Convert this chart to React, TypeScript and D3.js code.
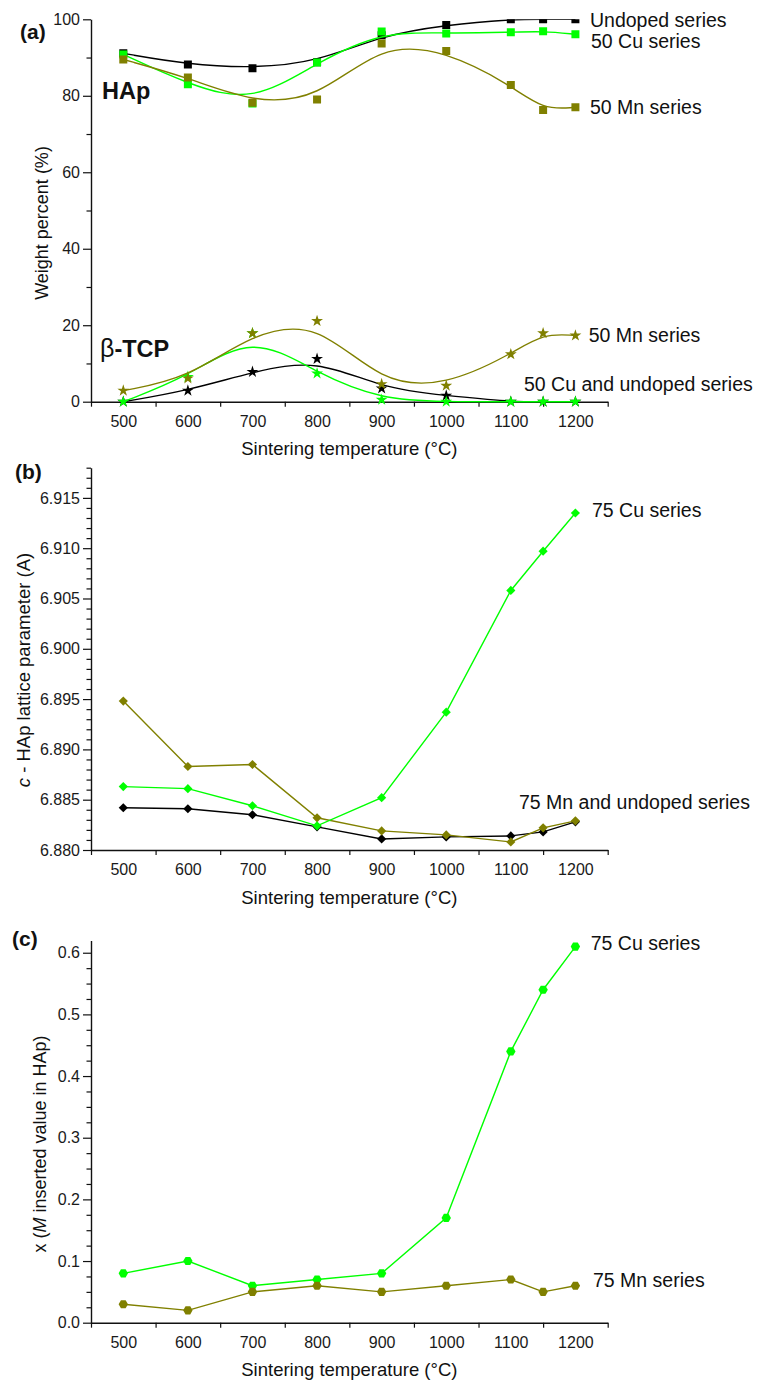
import React, { useEffect, useRef } from 'react';
import * as d3 from 'd3';

// sintering temperatures (°C)
const temps = [500, 600, 700, 800, 900, 1000, 1100, 1150, 1200];
const xTickMarks = [450, 550, 650, 750, 850, 950, 1050, 1150, 1250];
const xTickLabels = [500, 600, 700, 800, 900, 1000, 1100, 1200];

// (a) weight percent, HAp phase
const hapUndoped = [91.1, 88.2, 87.2, 88.8, 95.8, 98.5, 100, 100, 100];
const hapCu50 = [90.8, 83.0, 78.0, 88.7, 96.8, 96.3, 96.6, 96.9, 96.1];
const hapMn50 = [89.5, 84.8, 78.2, 79.0, 93.7, 91.7, 82.8, 76.3, 77.0];
// (a) weight percent, beta-TCP phase
const tcpUndoped = [0, 2.9, 7.8, 11.2, 3.5, 1.6, 0, 0, 0];
const tcpCu50 = [0, 6.5, 17.9, 7.4, 0.5, 0, 0, 0, 0];
const tcpMn50 = [2.9, 6.1, 17.9, 21.1, 4.6, 4.2, 12.4, 17.9, 17.3];
const weightMajors = [0, 20, 40, 60, 80, 100];
const weightMinors = [10, 30, 50, 70, 90];

// (b) c lattice parameter
const latUndoped = [6.8842, 6.8841, 6.8835, 6.8823, 6.8811, 6.8813, 6.8814, 6.8818, 6.8828];
const latMn75 = [6.8948, 6.8883, 6.8885, 6.8832, 6.8819, 6.8815, 6.8808, 6.8822, 6.8829];
const latCu75 = [6.8863, 6.8861, 6.8844, 6.8824, 6.8852, 6.8937, 6.9058, 6.9097, 6.9135];
const latMajors = [6.88, 6.885, 6.89, 6.895, 6.9, 6.905, 6.91, 6.915];
const latMinors = d3.range(6880, 6919, 1).map((v) => v / 1000).filter((v) => Math.round(v * 1000) % 5 !== 0);

// (c) inserted value x
const xCu75 = [0.08, 0.1, 0.06, 0.07, 0.08, 0.17, 0.44, 0.54, 0.61];
const xMn75 = [0.03, 0.02, 0.05, 0.06, 0.05, 0.06, 0.07, 0.05, 0.06];
const insMajors = [0, 0.1, 0.2, 0.3, 0.4, 0.5, 0.6];
const insMinors = d3.range(0, 25).map((v) => v * 0.025).filter((v, i) => i % 4 !== 0);

const FONT = '"Liberation Sans", Arial, Helvetica, sans-serif';
const GREEN = '#00ff00';
const OLIVE = '#808000';
const BLACK = '#000000';

const hexagon = (r) => {
  const pts = d3.range(6).map((i) => [r * Math.cos((Math.PI / 3) * i), r * Math.sin((Math.PI / 3) * i)]);
  return 'M' + pts.map((p) => p.join(',')).join('L') + 'Z';
};

export default function App() {
  const ref = useRef(null);

  useEffect(() => {
    const svg = d3.select(ref.current);
    svg.selectAll('*').remove();
    svg.style('font-family', FONT);

    const x = d3.scaleLinear().domain([450, 1250]).range([91, 607.7]);

    const square = d3.symbol(d3.symbolSquare, 64)();
    const star = d3.symbol(d3.symbolStar, 44)();
    const diamond = d3.symbol(d3.symbolSquare, 42)();
    const hex = hexagon(4.7);

    function drawPanel(id, y, majors, minors, fmt) {
      const g = svg.append('g');
      const [bottom, top] = y.range();

      // x axis: marks at odd 50s, labels at hundreds without marks
      const xa = g.append('g').attr('transform', `translate(0,${bottom})`);
      xa.call(d3.axisBottom(x).tickValues(xTickMarks).tickSize(5).tickSizeOuter(0).tickFormat(() => ''));
      const xl = g.append('g').attr('transform', `translate(0,${bottom})`);
      xl.call(d3.axisBottom(x).tickValues(xTickLabels).tickSize(0).tickPadding(14).tickFormat(d3.format('d')));
      xl.select('.domain').remove();

      const ya = g.append('g').attr('transform', `translate(${x.range()[0]},0)`);
      ya.call(d3.axisLeft(y).tickValues(majors).tickSize(8).tickPadding(3).tickSizeOuter(0).tickFormat(d3.format(fmt)));
      const ym = g.append('g').attr('transform', `translate(${x.range()[0]},0)`);
      ym.call(d3.axisLeft(y).tickValues(minors).tickSize(4.5).tickFormat(() => ''));
      ym.select('.domain').remove();

      g.selectAll('.domain').attr('stroke', '#111').attr('stroke-width', 1.4);
      g.selectAll('.tick line').attr('stroke', '#111').attr('stroke-width', 1.2);
      g.selectAll('.tick text').attr('font-size', 16).attr('fill', '#1a1a1a').attr('font-family', FONT);

      g.append('text')
        .attr('x', (x.range()[0] + x.range()[1]) / 2)
        .attr('y', bottom + 53.5)
        .attr('text-anchor', 'middle')
        .attr('font-size', 18.5)
        .attr('fill', '#111')
        .text('Sintering temperature (°C)');

      g.append('clipPath')
        .attr('id', id)
        .append('rect')
        .attr('x', 0)
        .attr('y', top)
        .attr('width', 760)
        .attr('height', bottom - top + 30);

      return g.append('g').attr('clip-path', `url(#${id})`);
    }

    function drawSeries(g, y, values, color, marker, curve, rotate = 0) {
      const line = d3
        .line()
        .x((d, i) => x(temps[i]))
        .y((d) => y(d))
        .curve(curve);
      g.append('path')
        .attr('d', line(values))
        .attr('fill', 'none')
        .attr('stroke', color)
        .attr('stroke-width', 1.4);
      g.append('g')
        .selectAll('path')
        .data(values)
        .enter()
        .append('path')
        .attr('d', marker)
        .attr('fill', color)
        .attr('transform', (d, i) => `translate(${x(temps[i])},${y(d)}) rotate(${rotate})`);
    }

    function label(txt, px, py, size, weight = 'normal') {
      return svg
        .append('text')
        .attr('x', px)
        .attr('y', py)
        .attr('font-size', size)
        .attr('font-weight', weight)
        .attr('fill', '#111')
        .text(txt);
    }

    // ---------- (a)
    const ya = d3.scaleLinear().domain([0, 100]).range([401.7, 19.3]);
    const pa = drawPanel('clipA', ya, weightMajors, weightMinors, 'd');
    drawSeries(pa, ya, hapUndoped, BLACK, square, d3.curveBasis);
    drawSeries(pa, ya, hapCu50, GREEN, square, d3.curveBasis);
    drawSeries(pa, ya, hapMn50, OLIVE, square, d3.curveBasis);
    drawSeries(pa, ya, tcpUndoped, BLACK, star, d3.curveBasis);
    drawSeries(pa, ya, tcpCu50, GREEN, star, d3.curveBasis);
    drawSeries(pa, ya, tcpMn50, OLIVE, star, d3.curveBasis);

    label('(a)', 20, 39, 21, 'bold');
    label('HAp', 102, 99, 23.5, 'bold');
    const tcp = label('', 100, 357, 25);
    tcp.append('tspan').attr('font-weight', 'normal').text('β');
    tcp.append('tspan').attr('font-weight', 'bold').attr('font-size', 23.5).text('-TCP');
    label('Undoped series', 590, 26.7, 19.5);
    label('50 Cu series', 591, 47.7, 19.5);
    label('50 Mn series', 590, 114, 19.5);
    label('50 Mn series', 588.7, 341.7, 19.5);
    label('50 Cu and undoped series', 524, 390.7, 19.5);
    svg
      .append('text')
      .attr('transform', 'translate(48,223) rotate(-90)')
      .attr('text-anchor', 'middle')
      .attr('font-size', 18)
      .attr('fill', '#111')
      .text('Weight percent (%)');

    // ---------- (b)
    const yb = d3.scaleLinear().domain([6.88, 6.918]).range([850, 467.7]);
    const pb = drawPanel('clipB', yb, latMajors, latMinors, '.3f');
    drawSeries(pb, yb, latUndoped, BLACK, diamond, d3.curveLinear, 45);
    drawSeries(pb, yb, latMn75, OLIVE, diamond, d3.curveLinear, 45);
    drawSeries(pb, yb, latCu75, GREEN, diamond, d3.curveLinear, 45);

    label('(b)', 15, 479, 21, 'bold');
    label('75 Cu series', 592, 517.3, 19.5);
    label('75 Mn and undoped series', 519, 809, 19.5);
    const tb = svg
      .append('text')
      .attr('transform', 'translate(30,670) rotate(-90)')
      .attr('text-anchor', 'middle')
      .attr('font-size', 18.5)
      .attr('fill', '#111');
    tb.append('tspan').attr('font-style', 'italic').text('c');
    tb.append('tspan').text(' - HAp lattice parameter (A)');

    // ---------- (c)
    const yc = d3.scaleLinear().domain([0, 0.62]).range([1322.7, 940.4]);
    const pc = drawPanel('clipC', yc, insMajors, insMinors, '.1f');
    drawSeries(pc, yc, xCu75, GREEN, hex, d3.curveLinear);
    drawSeries(pc, yc, xMn75, OLIVE, hex, d3.curveLinear);

    label('(c)', 12, 946, 21, 'bold');
    label('75 Cu series', 590.7, 950, 19.5);
    label('75 Mn series', 593, 1286.7, 19.5);
    const tc = svg
      .append('text')
      .attr('transform', 'translate(46,1144) rotate(-90)')
      .attr('text-anchor', 'middle')
      .attr('font-size', 18)
      .attr('fill', '#111');
    tc.append('tspan').text('x (');
    tc.append('tspan').attr('font-style', 'italic').text('M');
    tc.append('tspan').text(' inserted value in HAp)');
  }, []);

  return (
    <svg
      ref={ref}
      width={760}
      height={1383}
      style={{ position: 'absolute', left: 0, top: 0, background: '#fff' }}
    />
  );
}
